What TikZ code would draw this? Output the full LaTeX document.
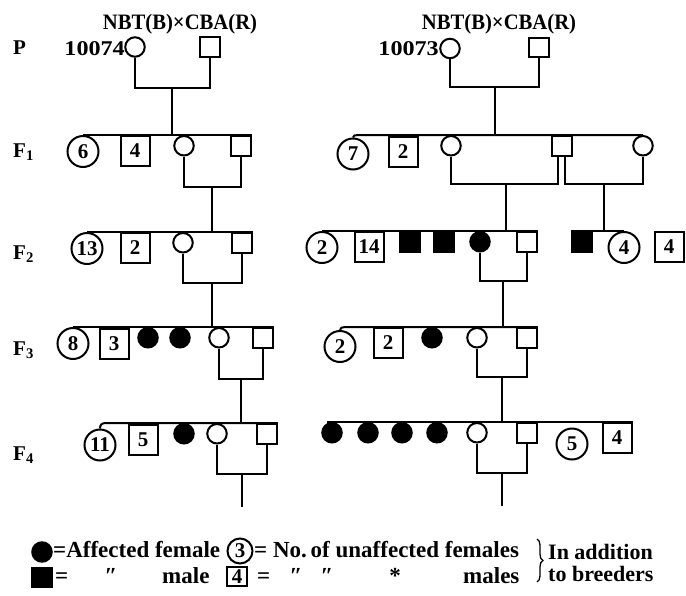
\documentclass[tikz,border=0pt]{standalone}
\usepackage{fontspec}
\setmainfont{Liberation Serif}
\usetikzlibrary{decorations.pathreplacing,calc}
\newcommand\pnumfont{\bfseries\fontsize{21}{21}\selectfont}
\newcommand\plblfont{\bfseries\fontsize{21}{21}\selectfont}
\newcommand\ptitfont{\bfseries\fontsize{22}{22}\selectfont}
\newcommand\plegfont{\bfseries\fontsize{23}{23}\selectfont}
\newcommand\pnotefont{\bfseries\fontsize{22}{22}\selectfont}
\begin{document}
\begin{tikzpicture}[x=1pt,y=-1pt,
  lw/.style={line width=2pt},
  fem/.style={circle, draw, line width=2pt, minimum size=19.5pt, inner sep=0pt},
  mal/.style={rectangle, draw, line width=2pt, minimum size=19.5pt, inner sep=0pt},
  afem/.style={fem, fill=black},
  amal/.style={mal, fill=black},
  numc/.style={circle, draw, line width=2pt, minimum size=31pt, inner sep=0pt, font=\pnumfont},
  nums/.style={rectangle, draw, line width=2pt, minimum width=29pt, minimum height=30pt, inner sep=0pt, font=\pnumfont},
  lbl/.style={inner sep=0pt, font=\plblfont},
  tit/.style={inner sep=0pt, font=\ptitfont},
  leg/.style={inner sep=0pt, font=\plegfont},
  note/.style={inner sep=0pt, font=\pnotefont}
]
\useasboundingbox (0,0) rectangle (686,595);

% titles
\node[tit, anchor=base] (titleL) at (180,29) {\scalebox{0.94}[1]{NBT(B)×CBA(R)}};
\node[tit, anchor=base] (titleR) at (499,29) {\scalebox{0.94}[1]{NBT(B)×CBA(R)}};

% generation labels
\node[lbl, anchor=base west] (gP) at (13,54) {P};
\node[lbl, anchor=base west] (g1) at (13,157) {F\textsubscript{1}};
\node[lbl, anchor=base west] (g2) at (13,259) {F\textsubscript{2}};
\node[lbl, anchor=base west] (g3) at (13,355) {F\textsubscript{3}};
\node[lbl, anchor=base west] (g4) at (13,460) {F\textsubscript{4}};

% ===== Left family =====
\node[lbl, anchor=base east] (id74) at (125,55) {\scalebox{1.15}[1]{10074}};
\node[fem] (PfL) at (135,47) {};
\node[mal] (PmL) at (210,47) {};
\coordinate (jPL) at (172,88);
\coordinate (dF1L) at (172,136);
\draw[lw] (PfL.south) |- (jPL) -| (PmL.south);
\draw[lw] (jPL) -- (dF1L);

% F1 left
\node[numc] (c6) at (83,151.5) {6};
\node[nums] (s4) at (135,151) {4};
\node[fem] (F1fL) at (184,145.75) {};
\node[mal] (F1mL) at (241,145.75) {};
\draw[lw] (c6.north) -- (F1mL.north east);
\coordinate (jF1L) at (212,187);
\coordinate (dF2L) at (212,233);
\draw[lw] (F1fL.south) |- (jF1L) -| (F1mL.south);
\draw[lw] (jF1L) -- (dF2L);

% F2 left
\node[numc] (c13) at (87,248.5) {13};
\node[nums] (s2L) at (135,248) {2};
\node[fem] (F2fL) at (183,242.75) {};
\node[mal] (F2mL) at (242,242.75) {};
\draw[lw] (c13.north) -- (F2mL.north east);
\coordinate (jF2L) at (212,283);
\coordinate (dF3L) at (212,328);
\draw[lw] (F2fL.south) |- (jF2L) -| (F2mL.south);
\draw[lw] (jF2L) -- (dF3L);

% F3 left
\node[numc] (c8) at (73,343.5) {8};
\node[nums] (s3) at (114,343.5) {3};
\node[afem] (a3L1) at (148,337.75) {};
\node[afem] (a3L2) at (180,337.75) {};
\node[fem] (F3fL) at (219,337.75) {};
\node[mal] (F3mL) at (263,337.75) {};
\draw[lw] (c8.north) -- (F3mL.north east);
\coordinate (jF3L) at (241,379);
\coordinate (dF4L) at (241,424);
\draw[lw] (F3fL.south) |- (jF3L) -| (F3mL.south);
\draw[lw] (jF3L) -- (dF4L);

% F4 left
\node[numc] (c11) at (100,445) {11};
\node[nums] (s5) at (143,439.5) {5};
\node[afem] (a4L) at (184,433.75) {};
\node[fem] (F4fL) at (217,433.75) {};
\node[mal] (F4mL) at (267,433.75) {};
\draw[lw] (c11.north) .. controls +(0,-4) and +(-4,0) .. ($(c11.north |- F4mL.north east)+(6,0)$) -- (F4mL.north east);
\coordinate (jF4L) at (242,474);
\coordinate (endL) at (242,507);
\draw[lw] (F4fL.south) |- (jF4L) -| (F4mL.south);
\draw[lw] (jF4L) -- (endL);

% ===== Right family =====
\node[lbl, anchor=base east] (id73) at (439,55) {\scalebox{1.15}[1]{10073}};
\node[fem] (PfR) at (450,48.5) {};
\node[mal] (PmR) at (539,47.5) {};
\coordinate (jPR) at (495,87);
\coordinate (dF1R) at (495,136);
\draw[lw] (PfR.south) |- (jPR) -| (PmR.south);
\draw[lw] (jPR) -- (dF1R);

% F1 right
\node[numc] (c7) at (353,154) {7};
\node[nums] (s2R) at (403,152) {2};
\node[fem] (F1fR1) at (451,145.75) {};
\node[mal] (F1mR) at (562,145.75) {};
\node[fem] (F1fR2) at (643,145.75) {};
\draw[lw] (c7.north) .. controls +(0,-2) and +(-3,0) .. ($(c7.north |- F1fR2.north)+(5,0)$) -- (F1fR2.north);
\coordinate (jF1R1) at (506,184);
\coordinate (jF1R2) at (604,184);
\coordinate (dF2R) at (506,232);
\coordinate (dF2R2) at (604,232);
\draw[lw] (F1fR1.south) |- (jF1R1) -| ([xshift=-4pt]F1mR.south);
\draw[lw] ([xshift=3pt]F1mR.south) |- (jF1R2) -| (F1fR2.south);
\draw[lw] (jF1R1) -- (dF2R);
\draw[lw] (jF1R2) -- (dF2R2);

% F2 right main
\node[numc] (c2a) at (322,247.5) {2};
\node[nums] (s14) at (369,247) {14};
\node[amal] (m2a) at (410,241.75) {};
\node[amal] (m2b) at (444,241.75) {};
\node[afem] (F2fR) at (480,241.75) {};
\node[mal] (F2mR) at (527,241.75) {};
\draw[lw] (c2a.north) -- (F2mR.north east);
\coordinate (jF2R) at (503,281);
\coordinate (dF3R) at (503,328);
\draw[lw] (F2fR.south) |- (jF2R) -| (F2mR.south);
\draw[lw] (jF2R) -- (dF3R);

% F2 right group
\node[amal] (m2c) at (582,241.75) {};
\node[numc] (c4) at (624,247.5) {4};
\node[nums] (s4R) at (669,247) {4};
\draw[lw] (m2c.north west) -- (c4.north);

% F3 right
\node[numc] (c2b) at (340,346.5) {2};
\node[nums] (s2b) at (388,343) {2};
\node[afem] (a3R) at (432,337.75) {};
\node[fem] (F3fR) at (477,337.75) {};
\node[mal] (F3mR) at (527,337.75) {};
\draw[lw] (c2b.north) .. controls +(0,-2) and +(-3,0) .. ($(c2b.north |- F3mR.north east)+(5,0)$) -- (F3mR.north east);
\coordinate (jF3R) at (502,377);
\coordinate (dF4R) at (502,423);
\draw[lw] (F3fR.south) |- (jF3R) -| (F3mR.south);
\draw[lw] (jF3R) -- (dF4R);

% F4 right
\node[afem] (b1) at (332,432.75) {};
\node[afem] (b2) at (368,432.75) {};
\node[afem] (b3) at (402,432.75) {};
\node[afem] (b4) at (437,432.75) {};
\node[fem] (F4fR) at (477,432.75) {};
\node[mal] (F4mR) at (527,432.75) {};
\node[numc] (c5) at (572,444) {5};
\node[nums] (s4c) at (617,438) {4};
\draw[lw] ([xshift=-5pt]b1.north) -- (s4c.north east);
\coordinate (jF4R) at (502,473);
\coordinate (endR) at (502,506);
\draw[lw] (F4fR.south) |- (jF4R) -| (F4mR.south);
\draw[lw] (jF4R) -- (endR);

% ===== Legend =====
\node[afem] (lgA) at (42,552) {};
\node[leg, anchor=base west] (lgAt) at (53,557) {=Affected female};
\node[numc, minimum size=25pt] (lg3) at (240,551) {3};
\node[leg, anchor=base west] (lg3t) at (254,557) {= No.\,of unaffected females};
\coordinate (brT) at (537,539);
\coordinate (brB) at (537,582);
\draw[line width=1.3pt, decorate, decoration={brace, amplitude=6pt}] (brT) -- (brB);
\node[note, anchor=base west] (ina) at (548,559) {In addition};
\node[note, anchor=base west] (tob) at (548,581) {to breeders};
\node[amal] (lgM) at (42,577.5) {};
\node[leg, anchor=base west] (eq1) at (55,583) {=};
\node[leg, anchor=base] (di1) at (111,583) {″};
\node[leg, anchor=base west] (malet) at (162,583) {male};
\node[nums, minimum width=19.5pt, minimum height=19.5pt] (lg4) at (237,576.5) {4};
\node[leg, anchor=base west] (eq2) at (257,583) {=};
\node[leg, anchor=base] (di2) at (296,583) {″};
\node[leg, anchor=base] (di3) at (327,583) {″};
\node[leg, anchor=base] (di4) at (395,583) {*};
\node[leg, anchor=base west] (malest) at (463,583) {males};
\end{tikzpicture}
\end{document}
